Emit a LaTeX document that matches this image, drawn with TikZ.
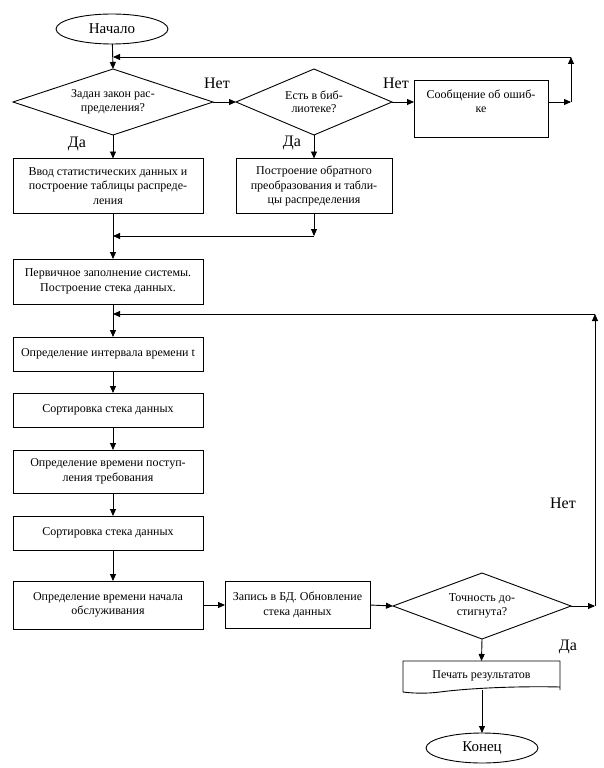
\documentclass[tikz,border=0pt]{standalone}
\usepackage{fontspec}
\setmainfont{Liberation Serif}
\usetikzlibrary{arrows.meta,shapes.geometric}
\begin{document}
\begin{tikzpicture}[x=1pt,y=-1pt,line width=0.9pt,
  arr/.style={-{Triangle[length=7pt,width=6pt]}},
  box/.style={draw,rectangle,align=center,inner sep=0pt,outer sep=0pt,font=\fontsize{12}{14.5}\selectfont},
  dec/.style={draw,diamond,aspect=3,align=center,inner sep=0pt,outer sep=0pt,font=\fontsize{12}{13.5}\selectfont},
  term/.style={draw,ellipse,inner sep=0pt,outer sep=0pt,minimum width=112,minimum height=30,font=\fontsize{15}{17}\selectfont},
  lbl/.style={font=\fontsize{16}{18}\selectfont,inner sep=0pt}]
\useasboundingbox (0,0) rectangle (604,768);
% terminals
\node[term] (start) at (112,29) {Начало};
\node[term] (end) at (482,748) {Конец};
% decisions
\node[dec,minimum width=200,minimum height=66] (d1) at (113,102) {Задан закон рас-\\пределения?};
\node[dec,minimum width=156,minimum height=66] (d2) at (314,102) {Есть в биб-\\лиотеке?};
\node[dec,minimum width=178,minimum height=66] (d3) at (482,606) {Точность до-\\стигнута?};
% boxes
\node[box,minimum width=134,minimum height=57] (msg) at (481,108.5) {Сообщение об ошиб-\\ке\\~};
\node[box,minimum width=190,minimum height=55] (b1) at (108,186) {Ввод статистических данных и\\построение таблицы распреде-\\ления};
\node[box,minimum width=156,minimum height=55] (b2) at (314,186) {Построение обратного\\преобразования и табли-\\цы распределения};
\node[box,minimum width=190,minimum height=45] (b3) at (108,281.5) {Первичное заполнение системы.\\Построение стека данных.};
\node[box,minimum width=190,minimum height=34] (b4) at (108,354) {Определение интервала времени t};
\node[box,minimum width=190,minimum height=34] (b5) at (108,410) {Сортировка стека данных};
\node[box,minimum width=190,minimum height=43] (b6) at (108,471.5) {Определение времени поступ-\\ления требования};
\node[box,minimum width=190,minimum height=34] (b7) at (108,533) {Сортировка стека данных};
\node[box,minimum width=190,minimum height=48] (b8) at (108,605) {Определение времени начала\\обслуживания};
\node[box,minimum width=145,minimum height=47] (b9) at (297.5,605) {Запись в БД. Обновление\\стека данных};
% print (document shape)
\node[inner sep=0pt,outer sep=0pt,minimum width=157,minimum height=29,font=\fontsize{12}{14}\selectfont] (print) at (481.5,675.5) {Печать результатов};
\draw (print.south west) ++(0,2) -- (print.north west) -- (print.north east) -- (print.south east) ++(0,-3) .. controls (520,686) and (470,688) .. (440,692) .. controls (425,694) and (410,693) .. (403,692) -- (print.south west);
\coordinate (pb) at (482,690);
% labels
\node[lbl] (n1) at (217,83) {Нет};
\node[lbl] (n2) at (396,83) {Нет};
\node[lbl] (y1) at (77,144) {Да};
\node[lbl] (y2) at (292,143) {Да};
\node[lbl] (n3) at (563,503) {Нет};
\node[lbl] (y3) at (568,647) {Да};
% helper coordinates
\coordinate (c1) at (571,102);
\coordinate (c2) at (571,57);
\coordinate (j1) at (113,57);
\coordinate (m2) at (314,236);
\coordinate (j2) at (113,236);
\coordinate (c3) at (595,606);
\coordinate (c4) at (595,314);
\coordinate (j3) at (113,314);
% connectors
\draw[arr] (start) -- (d1.north);
\draw[arr] (d1.east) -- (d2.west);
\draw[arr] (d2.east) -- (msg.west |- d2.east);
\draw[arr] (msg.east |- c1) -- (c1);
\draw[arr] (c1) -- (c2);
\draw[arr] (c2) -- (j1);
\draw[arr] (d1.south) -- (b1.north -| d1.south);
\draw[arr] (d2.south) -- (b2.north);
\draw[arr] (b1.south -| d1.south) -- (b3.north -| d1.south);
\draw[arr] (b2.south) -- (m2);
\draw[arr] (m2) -- (j2);
\draw[arr] (b3.south -| j3) -- (b4.north -| j3);
\draw[arr] (b4.south -| j3) -- (b5.north -| j3);
\draw[arr] (b5.south -| j3) -- (b6.north -| j3);
\draw[arr] (b6.south -| j3) -- (b7.north -| j3);
\draw[arr] (b7.south -| j3) -- (b8.north -| j3);
\draw[arr] (b8.east) -- (b9.west);
\draw[arr] (b9.east) -- (d3.west);
\draw[arr] (d3.east) -- (c3);
\draw[arr] (c3) -- (c4);
\draw[arr] (c4) -- (j3);
\draw[arr] (d3.south) -- (print.north);
\draw[arr] (pb) -- (end.north);
\end{tikzpicture}
\end{document}
